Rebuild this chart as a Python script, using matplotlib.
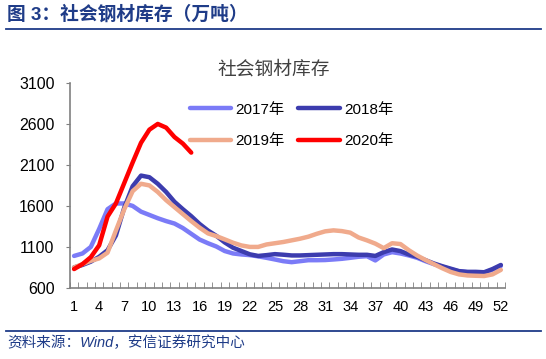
import matplotlib
matplotlib.use("Agg")
import matplotlib.pyplot as plt
import numpy as np

plt.rcParams['font.family'] = ['Liberation Sans', 'Noto Sans CJK SC', 'DejaVu Sans']

# weekly social steel inventory (10k tons), week 1..52
weeks = np.arange(1, 53)
y2017 = [990, 1020, 1100, 1320, 1560, 1630, 1630, 1600, 1530, 1490,
         1450, 1415, 1385, 1330, 1260, 1190, 1145, 1105, 1050, 1020,
         1008, 1000, 985, 967, 947, 926, 914, 926, 938, 938,
         940, 947, 955, 967, 980, 987, 935, 1008, 1036, 1020,
         996, 967, 926, 890, 858, 828, 802, 792, 788, 784,
         822, 868]
y2018 = [850, 880, 920, 980, 1060, 1240, 1580, 1840, 1970, 1950,
         1870, 1770, 1650, 1560, 1475, 1380, 1300, 1235, 1155, 1090,
         1050, 1010, 990, 1000, 1012, 1005, 996, 996, 1000, 1004,
         1008, 1012, 1012, 1008, 1004, 1004, 990, 1036, 1069, 1049,
         1008, 980, 938, 898, 865, 835, 805, 796, 796, 791,
         830, 880]
y2019 = [850, 890, 930, 960, 1030, 1300, 1560, 1780, 1870, 1850,
         1770, 1670, 1585, 1500, 1415, 1335, 1265, 1232, 1192, 1151,
         1118, 1100, 1100, 1130, 1145, 1160, 1180, 1200, 1225, 1260,
         1290, 1302, 1293, 1274, 1215, 1180, 1140, 1085, 1145, 1135,
         1060, 995, 940, 890, 840, 795, 765, 752, 748, 745,
         765, 820]
y2020 = [830, 890, 975, 1120, 1470, 1630, 1880, 2130, 2370, 2530,
         2600, 2555, 2440, 2360, 2250]

yticks = [600, 1100, 1600, 2100, 2600, 3100]
xlabels = list(range(1, 53, 3))

navy = '#1f3c88'

fig = plt.figure(figsize=(5.46, 3.59), dpi=100)
ax = fig.add_axes([0.128, 0.198, 0.797, 0.571])

l17, = ax.plot(weeks, y2017, color='#7b7bf7', lw=3.2, label='2017年', solid_capstyle='round')
l18, = ax.plot(weeks, y2018, color='#3c3cae', lw=3.2, label='2018年', solid_capstyle='round')
l19, = ax.plot(weeks, y2019, color='#f0aa8c', lw=3.2, label='2019年', solid_capstyle='round')
l20, = ax.plot(weeks[:len(y2020)], y2020, color='#ff0000', lw=3.2, label='2020年', solid_capstyle='round')

ax.set_xlim(0.5, 52.5)
ax.set_ylim(600, 3100)
ax.set_yticks(yticks)
ax.set_xticks(xlabels)
ax.set_xticks(np.arange(0.5, 53, 1), minor=True)
ax.tick_params(axis='x', which='major', length=0, pad=9, labelsize=10.5)
ax.tick_params(axis='x', which='minor', direction='in', length=4, color='#808080')
ax.tick_params(axis='y', direction='out', length=3, color='#808080', pad=8, labelsize=11.5)

for s in ['top', 'right']:
    ax.spines[s].set_visible(False)
for s in ['left', 'bottom']:
    ax.spines[s].set_color('#808080')
    ax.spines[s].set_linewidth(1.2)

fig.text(0.502, 0.805, '社会钢材库存', fontsize=13.5, color='#404040',
         ha='center', va='center')

# legend rows: 2017/2018 then 2019/2020
ax.legend([l17, l19, l18, l20], ['2017年', '2019年', '2018年', '2020年'],
          ncol=2, frameon=False, fontsize=11, handlelength=2.7,
          labelspacing=1.15, columnspacing=0.9, handletextpad=0.3,
          loc='upper left', bbox_to_anchor=(0.322, 0.752),
          bbox_transform=fig.transFigure)

# header and footer
fig.text(0.013, 0.96, '图 3：社会钢材库存（万吨）', fontsize=13.5, fontweight='bold',
         color=navy, va='center', ha='left')
fig.add_artist(plt.Line2D([0.011, 0.99], [0.918, 0.918], color=navy, lw=1.3))
fig.add_artist(plt.Line2D([0.011, 0.99], [0.078, 0.078], color=navy, lw=1.3))
fig.text(0.013, 0.044, '资料来源：Wind，安信证券研究中心', fontsize=10.5, style='italic',
         color=navy, va='center', ha='left')

fig.savefig('out.png', dpi=100)
